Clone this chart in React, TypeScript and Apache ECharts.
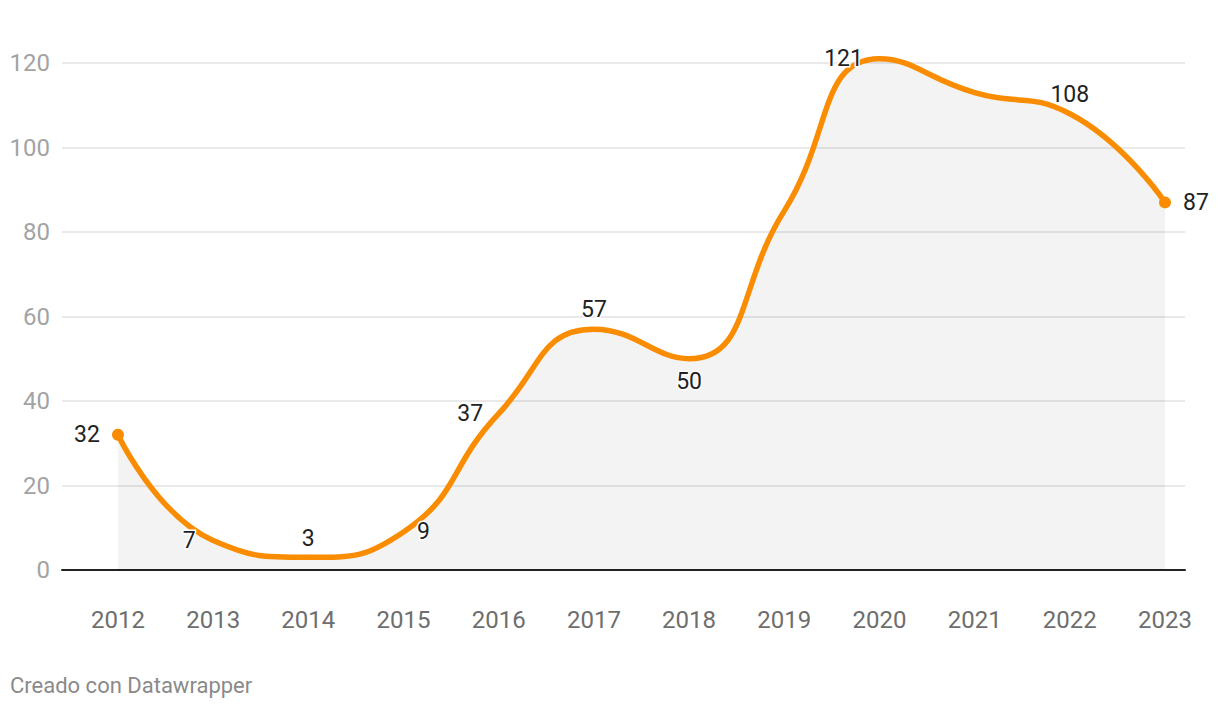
import React, { useEffect, useRef } from "react";
import * as echarts from "echarts";

const years = [2012, 2013, 2014, 2015, 2016, 2017, 2018, 2019, 2020, 2021, 2022, 2023];
const values = [32, 7, 3, 9, 37, 57, 50, 85, 121, 113, 108, 87];
// label position per point ("" = no label)
const labelPositions = ["left", "left", "top", "right", "left", "top", "bottom", "", "left", "", "top", "right"];
const labelDistances = [12, 17, 7, 13, 15, 8, 11, 0, 16, 0, 7, 12];
const yTicks = [0, 20, 40, 60, 80, 100, 120];
const footer = "Creado con Datawrapper";

const FONT = "Roboto, 'Noto Sans', sans-serif";
const ORANGE = "#f98c00";

export default function App() {
  const ref = useRef<HTMLDivElement>(null);
  useEffect(() => {
    document.body.style.margin = "0";
    const chart = echarts.init(ref.current!, undefined, { renderer: "svg" });
    const last = years.length - 1;
    const data = years.map((y, i) => {
      const isEnd = i === 0 || i === last;
      const pos = labelPositions[i];
      return {
        value: [y, values[i]],
        symbol: "circle",
        symbolSize: isEnd ? 12 : 1,
        label: {
          show: pos !== "",
          position: (pos || "top") as any,
          distance: labelDistances[i],
        },
      };
    });
    chart.setOption({
      animation: false,
      textStyle: { fontFamily: FONT },
      grid: { left: 62, right: 35, top: 63, bottom: 140, containLabel: false },
      xAxis: {
        type: "value",
        min: 2011.412,
        max: 2023.21,
        axisLine: { show: true, onZero: true, lineStyle: { color: "#222", width: 2 } },
        axisTick: { show: false },
        splitLine: { show: false },
        axisLabel: {
          customValues: years,
          formatter: (v: number) => String(Math.round(v)),
          color: "#6e6e6e",
          fontSize: 24,
          fontFamily: FONT,
          margin: 38,
        },
      },
      yAxis: {
        type: "value",
        min: yTicks[0],
        max: yTicks[yTicks.length - 1],
        interval: 20,
        axisLine: { show: false },
        axisTick: { show: false },
        splitLine: { lineStyle: { color: "#e2e2e2", width: 1.5 } },
        axisLabel: { color: "#a3a3a3", fontSize: 24, fontFamily: FONT, margin: 12 },
      },
      graphic: [
        {
          type: "text",
          left: 10,
          top: 674,
          style: { text: footer, fill: "#8a8a8a", font: `22px ${FONT}` },
        },
      ],
      series: [
        {
          type: "line",
          data,
          smooth: 0.5,
          clip: false,
          showSymbol: true,
          itemStyle: { color: ORANGE },
          lineStyle: { color: ORANGE, width: 5.5 },
          areaStyle: { color: "rgba(0,0,0,0.065)", origin: "start" },
          label: {
            color: "#222",
            fontSize: 23,
            fontFamily: FONT,
            textBorderColor: "#fff",
            textBorderWidth: 3,
            formatter: (p: any) => String(p.value[1]),
          },
          z: 3,
        },
      ],
    });
    return () => chart.dispose();
  }, []);
  return <div ref={ref} style={{ width: 1220, height: 710 }} />;
}
